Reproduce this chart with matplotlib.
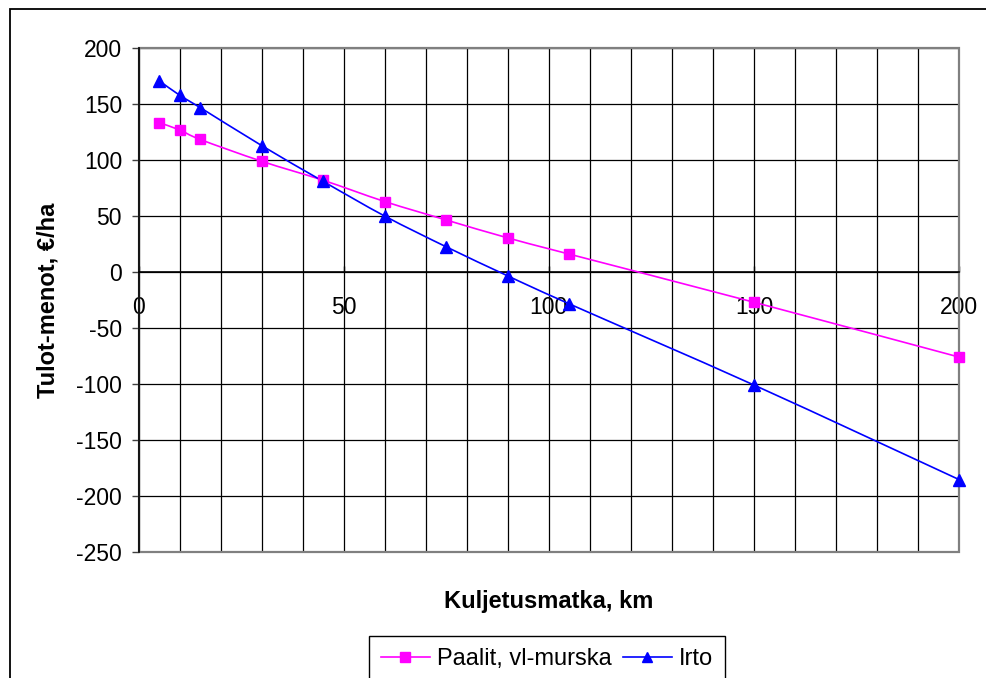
import matplotlib
matplotlib.use("Agg")
import matplotlib.pyplot as plt
import numpy as np
from matplotlib.path import Path
from matplotlib.patches import PathPatch, Rectangle
from matplotlib.lines import Line2D
from matplotlib.ticker import MultipleLocator

plt.rcParams['font.family'] = ['Liberation Sans', 'DejaVu Sans']
plt.rcParams['axes.unicode_minus'] = False

# Data
distance_km = [5, 10, 15, 30, 45, 60, 75, 90, 105, 150, 200]
paalit = [133.5, 127, 118.5, 99, 82, 63, 46.5, 30.5, 16, -27, -76]
irto = [171, 158, 147, 113, 81, 50, 22.5, -3.5, -28.5, -101, -185.5]
series_names = ["Paalit, vl-murska", "Irto"]
x_label = "Kuljetusmatka, km"
y_label = "Tulot-menot, €/ha"

W, H = 986, 678
fig = plt.figure(figsize=(W / 100, H / 100), dpi=100)
ax = fig.add_axes([138.7 / W, 1 - 551.7 / H, (959 - 138.7) / W, (551.7 - 48.3) / H])

ax.set_xlim(0, 200)
ax.set_ylim(-250, 200)
ax.xaxis.set_major_locator(MultipleLocator(50))
ax.xaxis.set_minor_locator(MultipleLocator(10))
ax.yaxis.set_major_locator(MultipleLocator(50))

ax.grid(which='minor', axis='x', color='black', lw=0.9)
ax.grid(which='major', axis='x', color='black', lw=0.9)
ax.grid(which='major', axis='y', color='black', lw=0.9)
ax.set_axisbelow(True)


def smooth_path(xs, ys):
    pts = np.column_stack([xs, ys]).astype(float)
    n = len(pts)
    verts = [pts[0]]
    codes = [Path.MOVETO]
    for i in range(n - 1):
        p0 = pts[i - 1] if i > 0 else pts[i]
        p1 = pts[i]
        p2 = pts[i + 1]
        p3 = pts[i + 2] if i + 2 < n else pts[i + 1]
        c1 = p1 + (p2 - p0) / 6.0
        c2 = p2 - (p3 - p1) / 6.0
        verts += [c1, c2, p2]
        codes += [Path.CURVE4] * 3
    return Path(verts, codes)


styles = [
    dict(color='#FF00FF', marker='s', ms=7.7),
    dict(color='#0000FF', marker='^', ms=8.7),
]
for ys, st, name in zip([paalit, irto], styles, series_names):
    ax.add_patch(PathPatch(smooth_path(distance_km, ys), fill=False,
                           ec=st['color'], lw=1.2, zorder=3))
    ax.plot(distance_km, ys, ls='none', marker=st['marker'], ms=st['ms'],
            color=st['color'], mec=st['color'], zorder=4, clip_on=False)

# Spines: x axis at y=0, plot border gray
for s in ['top', 'right']:
    ax.spines[s].set_visible(False)
ax.spines['bottom'].set_position(('data', 0))
ax.spines['bottom'].set_color('black')
ax.spines['bottom'].set_linewidth(1.2)
ax.spines['left'].set_color('black')
ax.spines['left'].set_linewidth(1.2)
ax.spines['left'].set_zorder(5)
ax.add_patch(Rectangle((0, 0), 1, 1, transform=ax.transAxes, fill=False,
                       ec='#808080', lw=1.6, clip_on=False, zorder=2.5))

ax.tick_params(axis='x', which='major', direction='in', length=4, width=1,
               pad=17, labelsize=16.5, color='black')
ax.tick_params(axis='x', which='minor', length=0)
ax.tick_params(axis='y', direction='out', length=5, width=1, pad=7,
               labelsize=16.5, color='#404040')

ax.set_xlabel(x_label, fontsize=17, fontweight='bold')
ax.xaxis.set_label_coords(0.5, (551.7 - 590) / (551.7 - 48.3), transform=ax.transAxes)
ax.set_ylabel(y_label, fontsize=17, fontweight='bold')
ax.yaxis.set_label_coords((60 - 138.7) / (959 - 138.7), 0.5)

handles = [Line2D([], [], color=st['color'], marker=st['marker'], ms=st['ms'] * 0.9,
                  lw=1.2) for st in styles]
leg = fig.legend(handles, series_names, loc='upper center', ncol=2,
                 bbox_to_anchor=(547 / W, 1 - 636 / H), fontsize=17,
                 frameon=True, fancybox=False, edgecolor='black', framealpha=1,
                 handlelength=2.1, handletextpad=0.3, columnspacing=0.45,
                 borderpad=0.5, borderaxespad=0)
leg.get_frame().set_linewidth(1.0)

# Outer chart frame (extends beyond image on right and bottom)
fig.patches.append(Rectangle((9.5 / W, -0.1), 1.2, 1 - 9.5 / H + 0.1,
                             transform=fig.transFigure, fill=False,
                             ec='black', lw=1.3, clip_on=False))

fig.savefig("out.png", dpi=100)
